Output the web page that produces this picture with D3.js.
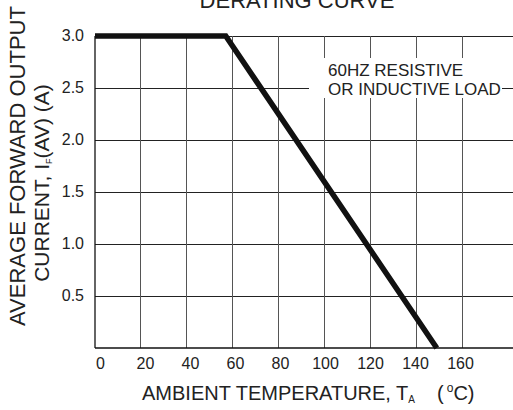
<!DOCTYPE html>
<html><head><meta charset="utf-8">
<script src="https://cdn.jsdelivr.net/npm/d3@7"></script>
<style>html,body{margin:0;padding:0;background:#fff;}svg{display:block;font-family:"Liberation Sans",Arial,sans-serif;}</style>
</head><body>
<svg id="c" width="513" height="410"></svg>
<script>
const xTicks = [0, 20, 40, 60, 80, 100, 120, 140, 160];
const xTickLabels = ["0","20","40","60","80","100","120","140","160"];
const yTicks = [0.5, 1.0, 1.5, 2.0, 2.5, 3.0];
const yTickLabels = ["0.5","1.0","1.5","2.0","2.5","3.0"];
const curveTemp = [0, 57, 149];
const curveCurrent = [3.0, 3.0, 0];
const title = "DERATING CURVE";
const xTitle = "AMBIENT TEMPERATURE, T";
const yTitle1 = "AVERAGE FORWARD OUTPUT";
const noteLines = ["60HZ RESISTIVE", "OR INDUCTIVE LOAD"];

const svg = d3.select("#c");
const x = d3.scaleLinear().domain([0, 160]).range([95, 462]);
const xRight = 513;
const y = d3.scaleLinear().domain([0, 3]).range([348, 36]);
const xl = d3.scalePoint().domain(xTickLabels).range([100, 460]);
const txt = "#222";

// horizontal grid
svg.append("g").selectAll("line").data(yTicks).join("line")
  .attr("x1", x(0)).attr("x2", xRight)
  .attr("y1", d => y(d)).attr("y2", d => y(d))
  .attr("stroke", "#222").attr("stroke-width", 1).attr("shape-rendering", "crispEdges");
// vertical grid
svg.append("g").selectAll("line").data(xTicks.slice(1)).join("line")
  .attr("x1", d => x(d)).attr("x2", d => x(d))
  .attr("y1", y(3)).attr("y2", y(0))
  .attr("stroke", "#555").attr("stroke-width", 1).attr("shape-rendering", "crispEdges");
// frame
svg.append("line").attr("x1", x(0)).attr("x2", x(0)).attr("y1", y(3)).attr("y2", y(0))
  .attr("stroke", "#111").attr("stroke-width", 1.3);
svg.append("line").attr("x1", x(0)).attr("x2", xRight).attr("y1", y(0)).attr("y2", y(0))
  .attr("stroke", "#111").attr("stroke-width", 1.3);

// note box
svg.append("rect").attr("x", 309).attr("y", 58).attr("width", 193).attr("height", 40).attr("fill", "#fff");
svg.append("g").selectAll("text").data(noteLines).join("text")
  .attr("x", 328).attr("y", (d, i) => 76 + i * 19)
  .attr("font-size", 17).attr("fill", txt).text(d => d);

// curve
const pts = curveTemp.map((t, i) => [t, curveCurrent[i]]);
svg.append("path").datum(pts)
  .attr("d", d3.line().x(d => x(d[0])).y(d => y(d[1])))
  .attr("fill", "none").attr("stroke", "#111").attr("stroke-width", 5.5)
  .attr("stroke-linejoin", "miter");

// y tick labels
const yAxis = d3.axisLeft(y).tickValues(yTicks).tickSize(0).tickPadding(0)
  .tickFormat((d, i) => yTickLabels[i]);
const gy = svg.append("g").attr("transform", "translate(84,0)").call(yAxis);
gy.select(".domain").remove();
gy.selectAll("text").attr("font-size", 16).attr("fill", txt)
  .attr("font-family", "'Liberation Sans',Arial,sans-serif").attr("dy", "0.28em");

// x tick labels
const xAxis = d3.axisBottom(xl).tickSize(0).tickPadding(0);
const gx = svg.append("g").attr("transform", "translate(0,357)").call(xAxis);
gx.select(".domain").remove();
gx.selectAll("text").attr("font-size", 16).attr("fill", txt)
  .attr("font-family", "'Liberation Sans',Arial,sans-serif").attr("dy", "0.75em");

// title
svg.append("text").attr("x", 297).attr("y", 8).attr("text-anchor", "middle")
  .attr("font-size", 22).attr("fill", txt).text(title);

// x title
const xt = svg.append("text").attr("x", 142).attr("y", 400).attr("font-size", 20).attr("fill", txt);
xt.append("tspan").text(xTitle);
xt.append("tspan").attr("font-size", 10).attr("dy", 3).text("A");
xt.append("tspan").attr("dy", -3).attr("dx", 22).text("(");
xt.append("tspan").attr("font-size", 12).attr("dy", -8).attr("dx", 3).text("o");
xt.append("tspan").attr("dy", 8).text("C)");

// y title
svg.append("text").attr("transform", "translate(25,166) rotate(-90)")
  .attr("text-anchor", "middle").attr("font-size", 22).attr("fill", txt).text(yTitle1);
const yt2 = svg.append("text").attr("transform", "translate(49,183) rotate(-90)")
  .attr("text-anchor", "middle").attr("font-size", 21).attr("fill", txt);
yt2.append("tspan").text("CURRENT, I");
yt2.append("tspan").attr("font-size", 9).attr("dy", 3).text("F");
yt2.append("tspan").attr("dy", -3).text("(AV) (A)");
</script>
</body></html>
